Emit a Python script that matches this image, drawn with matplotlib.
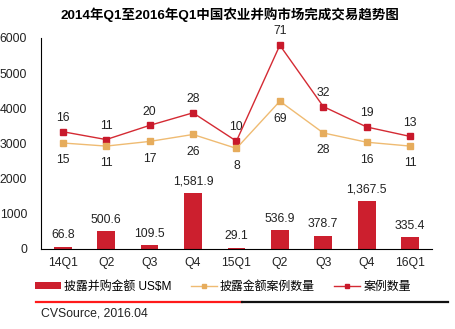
import matplotlib
matplotlib.use("Agg")
import matplotlib.pyplot as plt
from matplotlib.lines import Line2D
from matplotlib.patches import Patch

plt.rcParams['font.family'] = ['Liberation Sans', 'Noto Sans CJK SC', 'DejaVu Sans']

# 数据
quarters = ["14Q1", "Q2", "Q3", "Q4", "15Q1", "Q2", "Q3", "Q4", "16Q1"]
amount = [66.8, 500.6, 109.5, 1581.9, 29.1, 536.9, 378.7, 1367.5, 335.4]
amount_labels = ["66.8", "500.6", "109.5", "1,581.9", "29.1", "536.9", "378.7", "1,367.5", "335.4"]
disclosed_cases = [15, 11, 17, 26, 8, 69, 28, 16, 11]
cases = [16, 11, 20, 28, 10, 71, 32, 19, 13]

bar_color = "#cc1f2e"
red_line = "#d42a33"
orange_line = "#efbb72"
orange_marker = "#e6ac5c"

fig = plt.figure(figsize=(4.55, 3.29), dpi=100)
ax = fig.add_axes([0.0901, 0.2432, 0.859, 0.6413])
x = list(range(len(quarters)))

ax.bar(x, amount, width=0.41, color=bar_color, zorder=2)
for xi, v, lab in zip(x, amount, amount_labels):
    ax.annotate(lab, (xi, v), xytext=(0, 4), textcoords="offset points",
                ha="center", va="bottom", fontsize=8.8, color="#222222")

ax.set_xlim(-0.5, len(quarters) - 0.5)
ax.set_ylim(0, 6000)
ax.set_yticks([0, 1000, 2000, 3000, 4000, 5000, 6000])
ax.set_xticks(x)
ax.set_xticklabels(quarters)
ax.tick_params(length=0, labelsize=8.8, colors="#222222", pad=6)
ax.tick_params(axis="y", pad=10)
for s in ["top", "right"]:
    ax.spines[s].set_visible(False)
ax.spines["left"].set_color("black")
ax.spines["bottom"].set_color("black")

# 案例数量（隐藏副轴）
ax2 = ax.twinx()
ax2.plot(x, cases, color=red_line, lw=1.0, marker="s", ms=4.5,
         mfc="#c8192b", mec="#c8192b", zorder=4)
ax2.set_ylim(-58.6, 75.6)
ax2.axis("off")
for xi, v in zip(x, cases):
    ax2.annotate(str(v), (xi, v), xytext=(0, 10), textcoords="offset points",
                 ha="center", va="center", fontsize=8.8, color="#222222")

# 披露金额案例数量（隐藏副轴）
ax3 = ax.twinx()
ax3.plot(x, disclosed_cases, color=orange_line, lw=1.0, marker="s", ms=4.5,
         mfc=orange_marker, mec=orange_marker, zorder=3)
ax3.set_ylim(-122, 150.7)
ax3.axis("off")
for xi, v in zip(x, disclosed_cases):
    ax3.annotate(str(v), (xi, v), xytext=(0, -12.5), textcoords="offset points",
                 ha="center", va="center", fontsize=8.8, color="#222222")

fig.text(0.505, 0.955, "2014年Q1至2016年Q1中国农业并购市场完成交易趋势图",
         ha="center", va="center", fontsize=9.7, fontweight="bold",
         family=["Liberation Sans", "Noto Sans CJK SC"])

handles = [
    Patch(facecolor=bar_color, edgecolor="none"),
    Line2D([], [], color=orange_line, lw=1.0, marker="s", ms=3.5,
           mfc=orange_marker, mec=orange_marker),
    Line2D([], [], color=red_line, lw=1.0, marker="s", ms=3.5,
           mfc="#c8192b", mec="#c8192b"),
]
labels = ["披露并购金额 US$M", "披露金额案例数量", "案例数量"]
leg = fig.legend(handles, labels, loc="center", bbox_to_anchor=(0.49, 0.128), ncol=3,
                 frameon=False, fontsize=8.6, handlelength=2.2, handleheight=0.45,
                 handletextpad=0.25, columnspacing=1.6)

fig.add_artist(Line2D([36 / 455, 242 / 455], [1 - 302 / 329] * 2, color="#ff1a1a",
                      lw=1.6, transform=fig.transFigure))
fig.add_artist(Line2D([242 / 455, 448 / 455], [1 - 302 / 329] * 2, color="#111111",
                      lw=1.6, transform=fig.transFigure))
fig.text(41 / 455, 1 - 313 / 329, "CVSource, 2016.04", ha="left", va="center",
         fontsize=8.8, color="#222222")

fig.savefig("out.png", dpi=100)
